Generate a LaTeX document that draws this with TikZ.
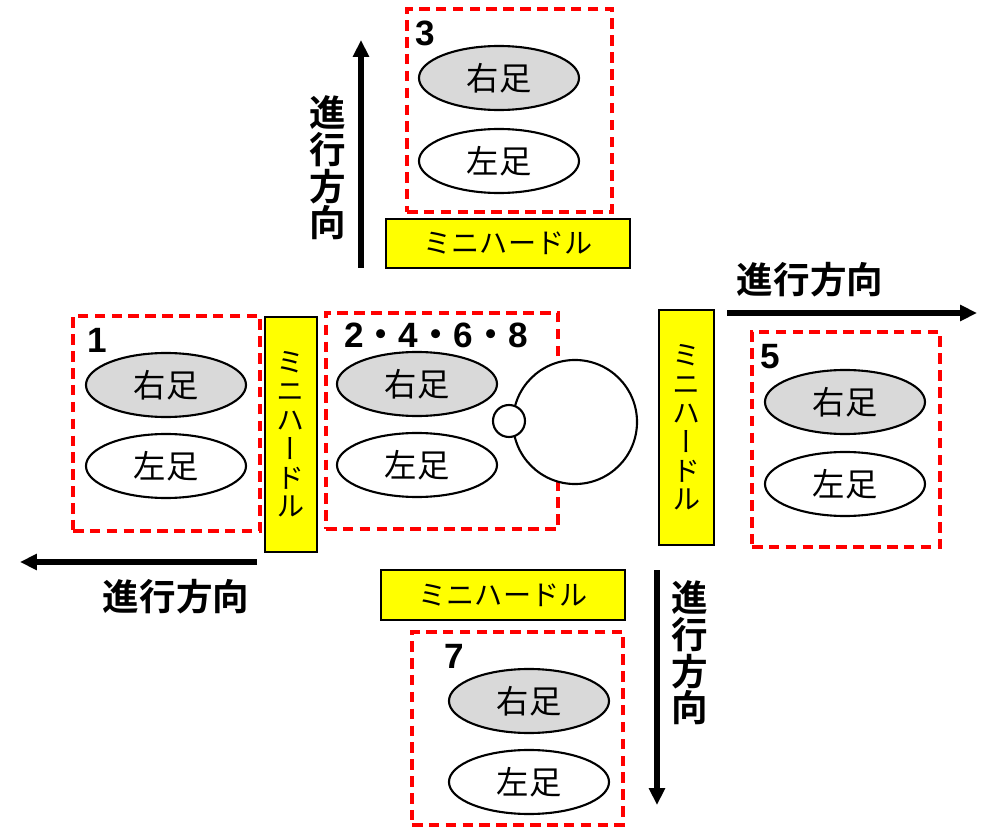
\documentclass[tikz,border=0pt]{standalone}
\usepackage{fontspec}
\setmainfont{Noto Sans CJK JP}[BoldFont={Noto Sans CJK JP Bold}]
\newfontfamily\vertjp{Noto Sans CJK JP}[RawFeature=+vert]
\newfontfamily\numfont{Liberation Sans}
\usepackage{xcolor}
\usetikzlibrary{arrows.meta,positioning,shapes.geometric}
\definecolor{footgray}{RGB}{217,217,217}
\definecolor{hurdleyellow}{RGB}{255,255,0}
\newcommand{\dg}[1]{{\numfont\bfseries #1}}

\begin{document}
\begin{tikzpicture}[
  x=0.025cm, y=-0.025cm,
  zone/.style={draw=red, line width=2.4pt, dash pattern=on 7.5pt off 4.5pt, inner sep=0pt},
  foot/.style={ellipse, draw, line width=1.5pt, minimum width=4cm, minimum height=1.6cm, inner sep=0pt, font=\fontsize{23}{23}\selectfont},
  rfoot/.style={foot, fill=footgray},
  lfoot/.style={foot, fill=white},
  hurdle/.style={draw, line width=1.5pt, fill=hurdleyellow, inner sep=0pt, align=center, font=\fontsize{20}{20}\selectfont},
  vhurdle/.style={hurdle, font=\fontsize{20}{20.5}\vertjp},
  num/.style={font=\fontsize{25}{25}\selectfont\bfseries, inner sep=0pt},
  dir/.style={font=\fontsize{26}{26}\selectfont\bfseries, align=center, inner sep=0pt},
  arr/.style={-{Triangle[length=12pt,width=11pt]}, line width=3.8pt}
]
\useasboundingbox (0,0) rectangle (996,827);

% step 3 (top)
\node[zone, minimum width=5.125cm, minimum height=5.075cm] (z3) at (509.5,110.5) {};
\node[num] (n3) at (425,33) {\dg{3}};
\node[rfoot] (r3) at (499,78) {右足};
\node[lfoot] (l3) at (499,161) {左足};
\node[hurdle, minimum width=6.1cm, minimum height=1.225cm] (h3) at (508,243.5) {ミニハードル};
\coordinate (u0) at (361,268);
\coordinate (u1) at (361,40);
\draw[arr] (u0) -- (u1);
\node[dir] (d3) at (328,168) {進\\行\\方\\向};

% step 1 (left)
\node[zone, minimum width=4.675cm, minimum height=5.375cm] (z1) at (166.5,423.5) {};
\node[num] (n1) at (97,340) {\dg{1}};
\node[rfoot] (r1) at (166,385) {右足};
\node[lfoot] (l1) at (166,466) {左足};
\node[vhurdle, minimum width=1.3cm, minimum height=5.875cm] (h1) at (291,434.5) {ミ\\ニ\\ハ\\ー\\ド\\ル};
\coordinate (w0) at (257,562);
\coordinate (w1) at (20,562);
\draw[arr] (w0) -- (w1);
\node[dir] (d1) at (176,597) {進行方向};

% steps 2, 4, 6, 8 (centre)
\node[zone, minimum width=5.8cm, minimum height=5.4cm] (z2) at (442,421) {};
\node[num] (n2) at (436,335) {\dg{2}・\dg{4}・\dg{6}・\dg{8}};
\node[rfoot] (r2) at (417,384) {右足};
\node[lfoot] (l2) at (417,465) {左足};
\node[circle, draw, line width=1.5pt, fill=white, minimum size=3.1cm, inner sep=0pt] (body) at (575,422) {};
\node[circle, draw, line width=1.5pt, fill=white, minimum size=0.8cm, inner sep=0pt] (head) at (509,421) {};

% step 5 (right)
\node[vhurdle, minimum width=1.375cm, minimum height=5.875cm] (h5) at (686.5,427.5) {ミ\\ニ\\ハ\\ー\\ド\\ル};
\coordinate (e0) at (727,313);
\coordinate (e1) at (977,313);
\draw[arr] (e0) -- (e1);
\node[dir] (d5) at (810,280) {進行方向};
\node[zone, minimum width=4.7cm, minimum height=5.375cm] (z5) at (846,439.5) {};
\node[num] (n5) at (770,357) {\dg{5}};
\node[rfoot] (r5) at (845,402) {右足};
\node[lfoot] (l5) at (845,484) {左足};

% step 7 (bottom)
\node[hurdle, minimum width=6.1cm, minimum height=1.25cm] (h7) at (503,595) {ミニハードル};
\node[zone, minimum width=5.275cm, minimum height=4.825cm] (z7) at (517.5,728.5) {};
\node[num] (n7) at (454,656) {\dg{7}};
\node[rfoot] (r7) at (529,701) {右足};
\node[lfoot] (l7) at (529,782) {左足};
\coordinate (s0) at (657,570);
\coordinate (s1) at (657,805);
\draw[arr] (s0) -- (s1);
\node[dir] (d7) at (690,653) {進\\行\\方\\向};
\end{tikzpicture}
\end{document}
